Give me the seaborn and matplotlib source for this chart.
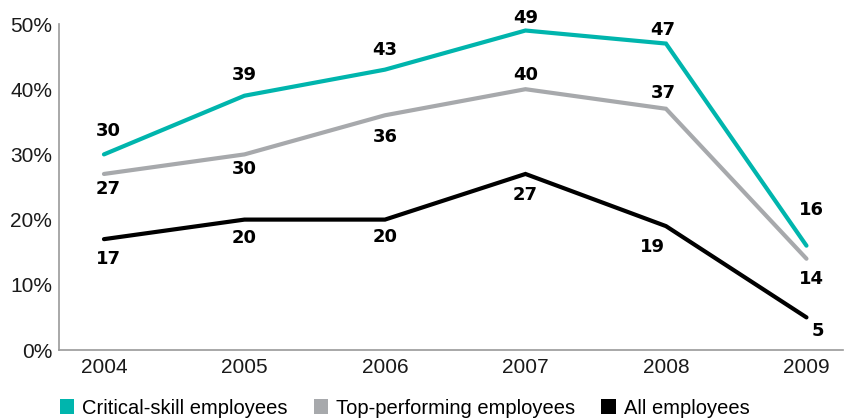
import matplotlib
matplotlib.use("Agg")
import matplotlib.pyplot as plt
from matplotlib.patches import Patch
import seaborn as sns
import pandas as pd

years = [2004, 2005, 2006, 2007, 2008, 2009]
critical = [30, 39, 43, 49, 47, 16]
top_perf = [27, 30, 36, 40, 37, 14]
all_emp = [17, 20, 20, 27, 19, 5]
series_names = ["Critical-skill employees", "Top-performing employees", "All employees"]
colors = ["#00B5AD", "#A7A9AC", "#000000"]
ytick_vals = [0, 10, 20, 30, 40, 50]
ytick_labels = ["0%", "10%", "20%", "30%", "40%", "50%"]

# label offsets in pixels (dx, dy; dy positive = up)
offsets = [
    [(4, 23), (0, 21), (0, 20), (0, 13), (-3, 14), (5, 36)],
    [(4, -15), (0, -15), (0, -22), (0, 14), (-3, 16), (5, -20)],
    [(4, -20), (0, -18), (0, -17), (0, -21), (-14, -21), (11, -14)],
]

sns.set_theme(style="white")
plt.rcParams["font.family"] = ["Liberation Sans", "DejaVu Sans"]

df = pd.DataFrame({
    "year": years * 3,
    "value": critical + top_perf + all_emp,
    "series": [series_names[0]] * 6 + [series_names[1]] * 6 + [series_names[2]] * 6,
})

fig = plt.figure(figsize=(8.58, 4.18), dpi=100)
ax = fig.add_axes([59 / 858, 1 - 350 / 418, (843 - 59) / 858, (350 - 24) / 418])

sns.lineplot(data=df, x="year", y="value", hue="series", palette=colors,
             hue_order=series_names, linewidth=3.0, ax=ax, legend=False,
             solid_capstyle="round", solid_joinstyle="miter")

all_vals = [critical, top_perf, all_emp]
for vals, offs in zip(all_vals, offsets):
    for x, v, (dx, dy) in zip(years, vals, offs):
        ax.annotate(str(v), (x, v), xytext=(dx * 0.72, dy * 0.72),
                    textcoords="offset points", ha="center", va="center",
                    fontsize=13, fontweight="bold", family="DejaVu Sans",
                    color="black")

ax.set_xlim(2003.68, 2009.26)
ax.set_ylim(0, 50)
ax.set_xticks(years)
ax.set_xticklabels([str(y) for y in years], fontsize=15, color="#1a1a1a")
ax.set_yticks(ytick_vals)
ax.set_yticklabels(ytick_labels, fontsize=15, color="#1a1a1a")
ax.set_xlabel("")
ax.set_ylabel("")
for s in ["top", "right"]:
    ax.spines[s].set_visible(False)
for s in ["left", "bottom"]:
    ax.spines[s].set_color("#999999")
    ax.spines[s].set_linewidth(1.2)
ax.tick_params(axis="y", length=0, pad=5)
ax.tick_params(axis="x", length=0, pad=6)

handles = [Patch(facecolor=c, edgecolor="none") for c in colors]
fig.legend(handles, series_names, loc="center left", bbox_to_anchor=(42 / 858, 1 - 408 / 418),
           ncol=3, frameon=False, handlelength=0.7, handleheight=0.7, handletextpad=0.4,
           columnspacing=1.3, labelcolor="black",
           prop={"family": ["Liberation Sans"], "size": 14.5})

fig.savefig("out.png", dpi=100)
